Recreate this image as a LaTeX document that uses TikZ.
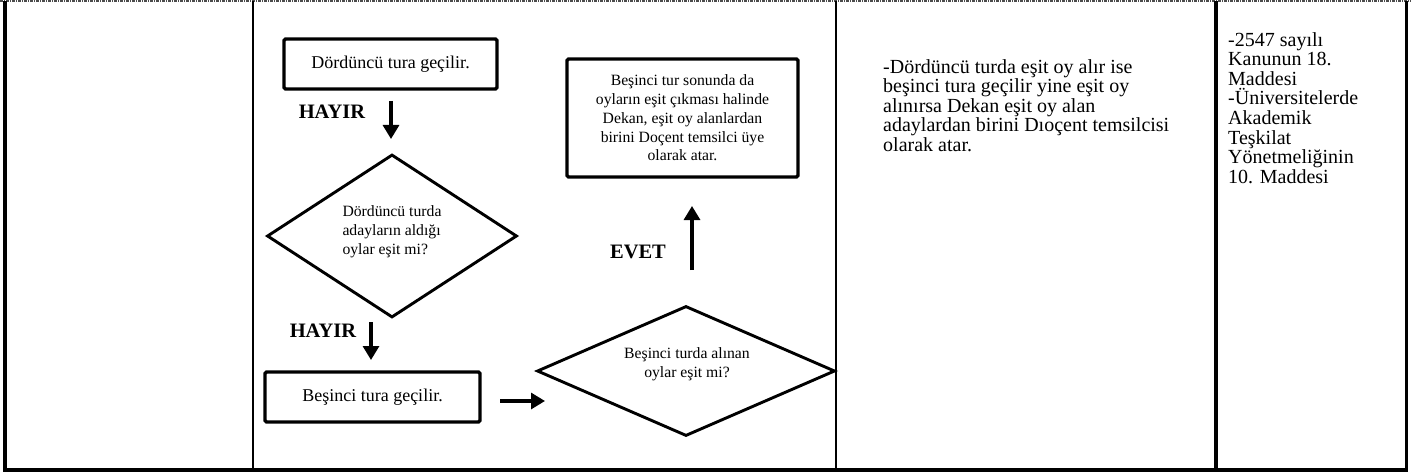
\documentclass[tikz,border=0pt]{standalone}
\usepackage{fontspec}
\setmainfont{Liberation Serif}
\usetikzlibrary{shapes.geometric,arrows.meta}
\newcommand{\colfnt}{\fontsize{20}{19.6}\selectfont}
\newcommand{\boxfnt}{\fontsize{18}{20}\selectfont}
\newcommand{\smallfnt}{\fontsize{15.7}{18.8}\selectfont}
\newcommand{\lblfnt}{\fontsize{20.5}{22}\selectfont\bfseries}
\tikzset{
  stepbox/.style={draw,line width=3.2pt,rounded corners=1.5pt,inner sep=0pt,font=\boxfnt},
  decision/.style={draw,diamond,line width=2.9pt,inner sep=0pt},
  flowarrow/.style={line width=3.1pt,-{Triangle[width=16pt,length=14pt]}},
}
\begin{document}
\begin{tikzpicture}[x=1pt,y=-1pt]
\useasboundingbox (0,0) rectangle (1413,476);
% table frame
\draw[line width=2pt,black!70,dash pattern=on 3pt off 1pt on 1pt off 1pt] (0,1.2)--(1411,1.2);
\draw[line width=3.4pt] (5,1)--(5,471.5);
\draw[line width=3.8pt] (3.5,469.8)--(1408,469.8);
\draw[line width=3.4pt] (1406.5,1)--(1406.5,471.5);
\foreach \x/\w in {253/2.4,836/2.8,1216/3.4} \draw[line width=\w pt] (\x,1)--(\x,468);
% flowchart
\node[stepbox,minimum width=213pt,minimum height=50pt] (tur4) at (390.5,64) {Dördüncü tura geçilir.};
\node[font=\lblfnt] (hayir1) at (332,112) {HAYIR};
\coordinate (a1s) at (391,101); \coordinate (a1e) at (391,139);
\draw[flowarrow] (a1s)--(a1e);
\node[decision,minimum width=250pt,minimum height=163pt,aspect=1.54] (esit4) at (392,236) {};
\node[font=\smallfnt,align=left] (esit4txt) at (392,232) {Dördüncü turda\\adayların aldığı\\oylar eşit mi?};
\node[font=\lblfnt] (hayir2) at (323,331) {HAYIR};
\coordinate (a2s) at (371,322); \coordinate (a2e) at (371,360);
\draw[flowarrow] (a2s)--(a2e);
\node[stepbox,minimum width=215pt,minimum height=50pt] (tur5) at (372.5,397) {Beşinci tura geçilir.};
\coordinate (a3s) at (500,401); \coordinate (a3e) at (545,401);
\draw[flowarrow] (a3s)--(a3e);
\node[decision,minimum width=298pt,minimum height=130pt,aspect=2.3] (esit5) at (686,371) {};
\node[font=\smallfnt,align=center] (esit5txt) at (687,364) {Beşinci turda alınan\\oylar eşit mi?};
\coordinate (a4s) at (692,270); \coordinate (a4e) at (692,206);
\draw[flowarrow] (a4s)--(a4e);
\node[font=\lblfnt] (evet) at (638,252) {EVET};
\node[stepbox,minimum width=231pt,minimum height=118pt,font=\smallfnt,align=center] (atama) at (682.5,118)
  {Beşinci tur sonunda da\\oyların eşit çıkması halinde\\Dekan, eşit oy alanlardan\\birini Doçent temsilci üye\\olarak atar.};
% columns
\node[font=\colfnt,align=left,anchor=north west,inner sep=0pt] (aciklama) at (883,59)
  {-Dördüncü turda eşit oy alır ise\\beşinci tura geçilir yine eşit oy\\alınırsa Dekan eşit oy alan\\adaylardan birini Dıoçent temsilcisi\\olarak atar.};
\node[font=\colfnt,align=left,anchor=north west,inner sep=0pt] (mevzuat) at (1228,32)
  {-2547 sayılı\\Kanunun 18.\\Maddesi\\-Üniversitelerde\\Akademik\\Teşkilat\\Yönetmeliğinin\\10. Maddesi};
\end{tikzpicture}
\end{document}
